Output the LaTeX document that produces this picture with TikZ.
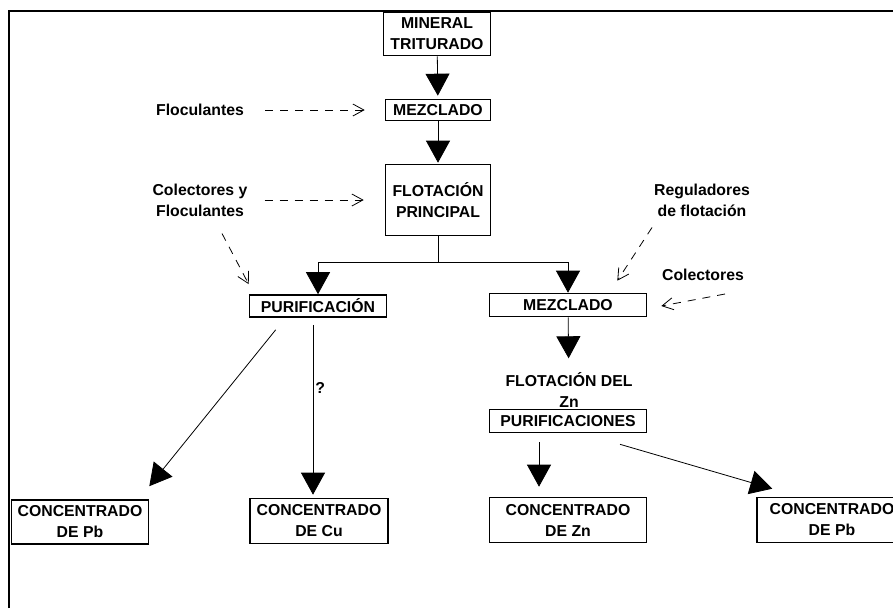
\documentclass[tikz,border=0pt]{standalone}
\usepackage{fontspec}
\setmainfont{Liberation Sans}
\usetikzlibrary{arrows.meta}

\begin{document}
\begin{tikzpicture}[x=1pt, y=-1pt,
		every node/.style={inner sep=0pt, align=center, font=\fontsize{15.8}{21}\selectfont\bfseries},
		box/.style={draw, line width=1.6pt},
		big/.style={-{Triangle[width=24pt,length=22pt]}, line width=0.8pt},
		feed/.style={-{Straight Barb[length=11pt,width=12pt]}, dash pattern=on 8pt off 7pt, line width=0.8pt}]
			\useasboundingbox (0,0) rectangle (893,608);
			\draw[line width=1.6pt] (9,608) -- (9,11) -- (893,11);
			
			\node[box, minimum width=107pt, minimum height=43pt] (mineral) at (437,34) {MINERAL\\TRITURADO};
			\node[box, minimum width=105pt, minimum height=21pt] (mezA) at (438,110) {MEZCLADO};
			\node[box, minimum width=105pt, minimum height=71pt] (flot) at (438,200) {FLOTACIÓN\\PRINCIPAL};
			\node[box, minimum width=137pt, minimum height=22pt] (puri) at (318,306) {PURIFICACIÓN};
			\node[box, minimum width=157pt, minimum height=23pt] (mezB) at (568,305) {MEZCLADO};
			\node (flotZn) at (569,390) {FLOTACIÓN DEL\\Zn};
			\node[box, minimum width=157pt, minimum height=23pt] (puriZn) at (568,421) {PURIFICACIONES};
			\node[box, minimum width=137pt, minimum height=44pt] (concPb) at (80,522) {CONCENTRADO\\DE Pb};
			\node[box, minimum width=138pt, minimum height=45pt] (concCu) at (319,521) {CONCENTRADO\\DE Cu};
			\node[box, minimum width=157pt, minimum height=45pt] (concZn) at (568,520) {CONCENTRADO\\DE Zn};
			\node[box, minimum width=150pt, minimum height=45pt] (concPbB) at (832,520) {CONCENTRADO\\DE Pb};
			
			\node (flocA) at (200,110) {Floculantes};
			\node (colA) at (200,200) {Colectores y\\Floculantes};
			\node (regA) at (702,200) {Reguladores\\de flotación};
			\node (colB) at (703,275) {Colectores};
			
			\coordinate (split) at (438,262);
			
			\draw[big, shorten >=3pt] (mineral) -- (mezA);
			\draw[big, shorten >=1pt] (mezA) -- (flot);
			\draw[line width=0.8pt] (flot) -- (split);
			\draw[big] (split) -| (puri);
			\draw[big] (split) -| (mezB);
			\draw[big, shorten >=14pt] (mezB) -- (flotZn);
			\draw[big] ([xshift=-29pt,yshift=-9pt]puriZn.south) -- ([xshift=-29pt,yshift=10pt]concZn.north);
			\draw[big] ([xshift=52pt,yshift=-11pt]puriZn.south) -- ([xshift=16pt,yshift=8pt]concPbB.north west);
			\draw[big] ([xshift=27pt,yshift=-12pt]puri.south west) -- ([yshift=13pt]concPb.north east);
			\draw[big] ([xshift=-5pt,yshift=-7pt]puri.south) -- node[pos=0.37, right=2pt] (q) {?} ([xshift=-6pt,yshift=3pt]concCu.north);
			
			\draw[feed, shorten <=21pt, shorten >=20pt] (flocA) -- (mezA);
			\draw[feed, shorten <=17pt, shorten >=21pt] (colA) -- (flot);
			\draw[feed] ([xshift=22pt,yshift=-17pt]colA.south) -- ([yshift=10pt]puri.north west);
			\draw[feed] ([xshift=-50pt,yshift=-11pt]regA.south) -- ([xshift=-30pt,yshift=12pt]mezB.north east);
			\draw[feed] ([xshift=22pt,yshift=-13pt]colB.south) -- ([xshift=14pt,yshift=-1pt]mezB.east);
		\end{tikzpicture}
\end{document}
